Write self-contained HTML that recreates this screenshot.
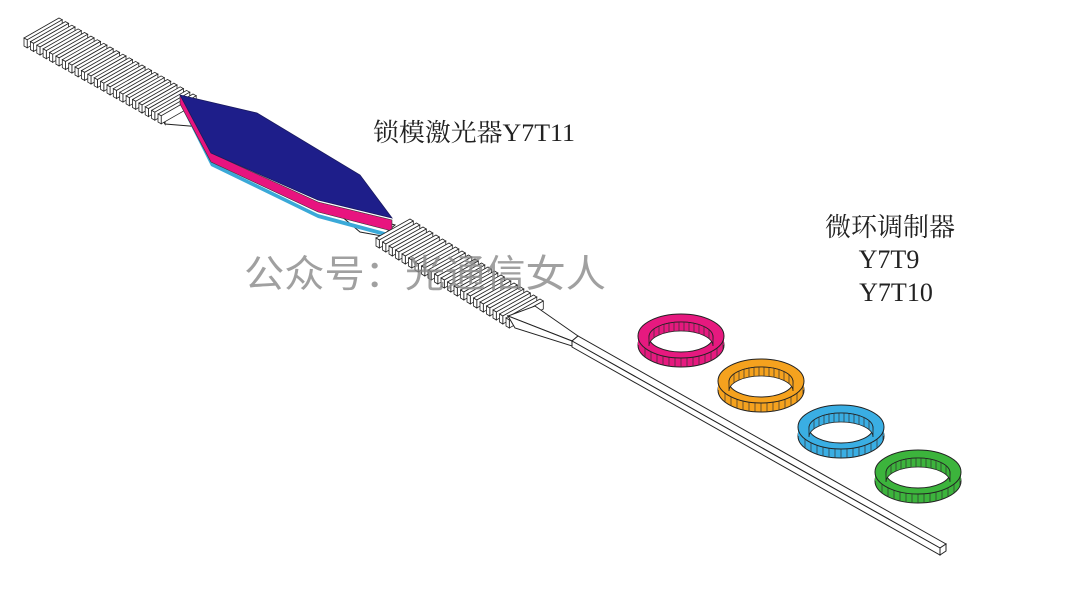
<!DOCTYPE html>
<html><head><meta charset="utf-8"><style>
html,body{margin:0;padding:0;background:#fff;width:1080px;height:608px;overflow:hidden}
svg{display:block}
</style></head><body>
<svg id="s" width="1080" height="608" viewBox="0 0 1080 608" xmlns="http://www.w3.org/2000/svg">
<rect width="1080" height="608" fill="#fff"/>
<!-- taper 1 left (under laser) -->
<g fill="#fff" stroke="#222" stroke-width="1">
<polygon points="157,110 188,96 225,118 214,128 165,124"/>
<polygon points="157,110 165,124 165,118"/>
<polygon points="340,215 370,218 395,225 382,236 360,232"/>
</g>
<g id="g1"></g>
<!-- laser -->
<polygon points="180,96 211,162 318,214 392,234 392,238 318,218 211,166 180,104" fill="#3aa9d8"/>
<polygon points="180,95 211,153 318,202 392,220 392,231 318,212 211,162 180,104" fill="#e8147f" stroke="#333" stroke-width="0.6"/>
<polygon points="180,95 257,113 360,175 392,218 318,200 211,153" fill="#1e1e8a" stroke="#1a1a60" stroke-width="0.8"/>
<g id="g2"></g>
<!-- taper 2 -->
<g fill="#fff" stroke="#222" stroke-width="1">
<polygon points="508,316 535,306 578,336 572,341"/>
<polygon points="508,316 515,328 572,346 572,341"/>
</g>
<!-- waveguide -->
<g fill="#fff" stroke="#222" stroke-width="1">
<polygon points="572,341 578,336 946,544 940,548"/>
<polygon points="572,341 940,548 940,555 572,347"/>
<polygon points="940,548 946,544 946,551 940,555"/>
</g>
<g id="rings"></g>
<text x="373" y="141" font-family="'Liberation Serif','Noto Serif CJK SC',serif" font-size="25" fill="#222" textLength="202" lengthAdjust="spacingAndGlyphs">锁模激光器Y7T11</text>
<g font-family="'Liberation Serif','Noto Serif CJK SC',serif" font-size="26" fill="#222" text-anchor="middle">
<text x="890" y="236">微环调制器</text>
<text x="889" y="268">Y7T9</text>
<text x="896" y="301">Y7T10</text>
</g>
<text x="244" y="287" font-family="'Liberation Sans','Noto Sans CJK SC',sans-serif" font-size="38" fill="#888" fill-opacity="0.8" textLength="362" lengthAdjust="spacingAndGlyphs">公众号：光通信女人</text>
</svg>
<script>
var NS="http://www.w3.org/2000/svg";
function poly(g,pts,fill,sw){var p=document.createElementNS(NS,"polygon");p.setAttribute("points",pts.map(function(a){return a[0].toFixed(1)+","+a[1].toFixed(1)}).join(" "));p.setAttribute("fill",fill);p.setAttribute("stroke","#222");p.setAttribute("stroke-width",sw||0.8);g.appendChild(p);}
function grating(id,sx,sy,ex,ey,n,vx,vy){
 var g=document.getElementById(id);
 var dx=(ex-sx)/(n-1),dy=(ey-sy)/(n-1);
 var wx=dx*0.5,wy=dy*0.5,h=8;
 for(var i=0;i<n;i++){
  var px=sx+dx*i,py=sy+dy*i;
  var P=[px,py],Pv=[px+vx,py+vy],Pw=[px+wx,py+wy],Pvw=[px+vx+wx,py+vy+wy];
  poly(g,[P,Pv,Pvw,Pw],"#fff");
  poly(g,[Pw,Pvw,[Pvw[0],Pvw[1]+h],[Pw[0],Pw[1]+h]],"#fff");
  poly(g,[P,Pw,[Pw[0],Pw[1]+h],[P[0],P[1]+h]],"#fff");
 }
}
grating("g1",24,38,158,114,22,35,-20);
grating("g2",376,238,506,318,21,34,-19);
function ring(cx,cy,col){
 var g=document.getElementById("rings");
 var t=9,R=43,r=22,ir=32,iry=15;
 function el(x,y,a,b,f,sw){var e=document.createElementNS(NS,"ellipse");e.setAttribute("cx",x);e.setAttribute("cy",y);e.setAttribute("rx",a);e.setAttribute("ry",b);e.setAttribute("fill",f);e.setAttribute("stroke","#222");e.setAttribute("stroke-width",sw||1);g.appendChild(e);}
 el(cx,cy+t,R,r,col);
 var rc=document.createElementNS(NS,"rect");rc.setAttribute("x",cx-R);rc.setAttribute("y",cy);rc.setAttribute("width",2*R);rc.setAttribute("height",t);rc.setAttribute("fill",col);g.appendChild(rc);
 for(var k=-R+7;k<R;k+=6){var yy=cy+r*Math.sqrt(1-(k*k)/(R*R));var l=document.createElementNS(NS,"line");l.setAttribute("x1",cx+k);l.setAttribute("x2",cx+k);l.setAttribute("y1",yy);l.setAttribute("y2",yy+t);l.setAttribute("stroke","#333");l.setAttribute("stroke-width",0.7);g.appendChild(l);}
 el(cx,cy,R,r,col);
 el(cx,cy+1,ir,iry,"#fff");
 var c2=document.createElementNS(NS,"path");
 c2.setAttribute("d","M"+(cx-ir)+","+(cy+1)+" A"+ir+","+iry+" 0 0 1 "+(cx+ir)+","+(cy+1)+" L"+(cx+ir)+","+(cy+1+t)+" A"+ir+","+iry+" 0 0 0 "+(cx-ir)+","+(cy+1+t)+"Z");
 c2.setAttribute("fill",col);c2.setAttribute("stroke","#222");c2.setAttribute("stroke-width",0.8);g.appendChild(c2);
 for(var k=-ir+5;k<ir;k+=5){var yy=cy+1-iry*Math.sqrt(1-(k*k)/(ir*ir));var l=document.createElementNS(NS,"line");l.setAttribute("x1",cx+k);l.setAttribute("x2",cx+k);l.setAttribute("y1",yy);l.setAttribute("y2",yy+t);l.setAttribute("stroke","#333");l.setAttribute("stroke-width",0.7);g.appendChild(l);}
}
ring(681,336,"#e6197f");
ring(761,381,"#f5a21e");
ring(841,427,"#3aaee3");
ring(918,472,"#3cb43c");
</script>
</body></html>
